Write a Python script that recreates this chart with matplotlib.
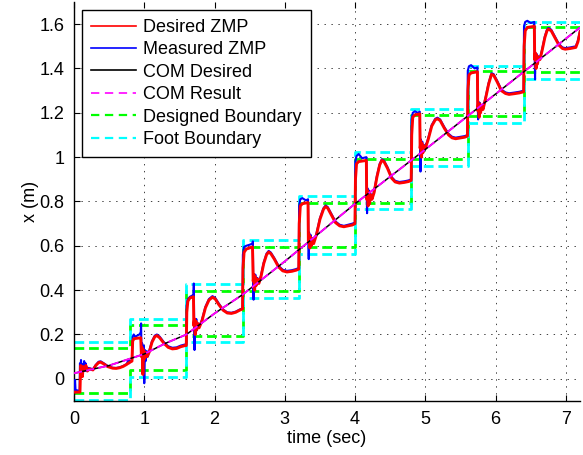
import matplotlib
matplotlib.use("Agg")
import matplotlib.pyplot as plt
from matplotlib.lines import Line2D

plt.rcParams['font.family'] = ['Liberation Sans', 'DejaVu Sans']
plt.rcParams['lines.scale_dashes'] = False

# ---------------- data ----------------
step_edges = [0.0, 0.8, 1.6, 2.4, 3.2, 4.0, 4.8, 5.6, 6.4, 7.2]
foot_lo = [-0.095, 0.009, 0.168, 0.366, 0.563, 0.765, 0.958, 1.155, 1.352]
foot_hi = [0.165, 0.27, 0.426, 0.626, 0.825, 1.022, 1.218, 1.411, 1.611]
design_lo = [-0.064, 0.042, 0.195, 0.397, 0.593, 0.795, 0.99, 1.185, 1.384]
design_hi = [0.137, 0.242, 0.397, 0.596, 0.795, 0.99, 1.19, 1.389, 1.585]

com_t = [0.0, 0.5, 1.0, 1.3, 1.6, 2.0, 2.4, 3.0, 4.0, 5.0, 6.0, 7.2]
com_des = [0.025, 0.06, 0.112, 0.16, 0.20, 0.295, 0.38, 0.53, 0.79, 1.035, 1.285, 1.585]
com_res = [0.025, 0.06, 0.112, 0.16, 0.20, 0.295, 0.38, 0.53, 0.79, 1.035, 1.285, 1.585]

zmp_des_t = [
    0.00, 0.085, 0.095, 0.11, 0.12, 0.13, 0.15, 0.17, 0.19, 0.22, 0.27, 0.31, 0.35, 0.38, 0.42, 0.48, 0.55, 0.60, 0.65, 0.70, 0.75, 0.78, 0.825,
    0.835, 0.85, 0.87, 0.95, 0.96, 0.97, 0.98, 0.99, 1.00, 1.02, 1.04, 1.07, 1.11, 1.15, 1.18, 1.22, 1.28, 1.34, 1.40, 1.46, 1.52, 1.58, 1.598,
    1.605, 1.62, 1.65, 1.70, 1.705, 1.715, 1.725, 1.735, 1.745, 1.76, 1.78, 1.82, 1.87, 1.92, 1.97, 2.01, 2.06, 2.12, 2.18, 2.24, 2.30, 2.36, 2.398,
    2.405, 2.42, 2.45, 2.54, 2.55, 2.56, 2.57, 2.58, 2.59, 2.61, 2.63, 2.66, 2.70, 2.74, 2.77, 2.80, 2.85, 2.91, 2.97, 3.03, 3.10, 3.16, 3.198,
    3.205, 3.22, 3.25, 3.33, 3.335, 3.345, 3.355, 3.365, 3.375, 3.39, 3.41, 3.45, 3.50, 3.55, 3.58, 3.61, 3.66, 3.72, 3.78, 3.84, 3.90, 3.96, 3.998,
    4.005, 4.02, 4.05, 4.16, 4.165, 4.175, 4.185, 4.195, 4.205, 4.22, 4.24, 4.27, 4.31, 4.35, 4.38, 4.41, 4.46, 4.52, 4.57, 4.63, 4.70, 4.76, 4.798,
    4.805, 4.82, 4.85, 4.92, 4.925, 4.935, 4.945, 4.955, 4.965, 4.98, 5.00, 5.04, 5.09, 5.14, 5.17, 5.21, 5.27, 5.33, 5.38, 5.43, 5.50, 5.56, 5.598,
    5.605, 5.62, 5.65, 5.74, 5.745, 5.755, 5.765, 5.775, 5.785, 5.80, 5.82, 5.86, 5.90, 5.94, 5.97, 6.02, 6.08, 6.14, 6.19, 6.26, 6.34, 6.398,
    6.405, 6.42, 6.45, 6.55, 6.555, 6.565, 6.575, 6.585, 6.595, 6.61, 6.63, 6.66, 6.70, 6.73, 6.75, 6.79, 6.84, 6.90, 6.95, 6.99, 7.06, 7.14, 7.17, 7.20,
]
zmp_des_x = [
    -0.06, -0.06, 0.06, 0.05, 0.01, 0.055, 0.04, 0.06, 0.035, 0.045, 0.04, 0.06, 0.073, 0.075, 0.068, 0.055, 0.048, 0.047, 0.05, 0.056, 0.065, 0.072, 0.08,
    0.17, 0.18, 0.182, 0.185, 0.10, 0.14, 0.02, 0.13, 0.09, 0.12, 0.10, 0.12, 0.165, 0.19, 0.195, 0.185, 0.16, 0.142, 0.135, 0.137, 0.145, 0.15, 0.15,
    0.30, 0.35, 0.365, 0.37, 0.24, 0.27, 0.20, 0.26, 0.22, 0.25, 0.23, 0.26, 0.32, 0.355, 0.368, 0.36, 0.335, 0.31, 0.297, 0.295, 0.30, 0.31, 0.315,
    0.50, 0.57, 0.585, 0.595, 0.44, 0.47, 0.40, 0.46, 0.42, 0.45, 0.43, 0.46, 0.52, 0.56, 0.572, 0.565, 0.54, 0.505, 0.487, 0.482, 0.485, 0.49, 0.495,
    0.70, 0.78, 0.79, 0.795, 0.62, 0.65, 0.59, 0.64, 0.60, 0.63, 0.61, 0.65, 0.72, 0.765, 0.777, 0.77, 0.74, 0.705, 0.69, 0.686, 0.69, 0.694, 0.70,
    0.90, 0.97, 0.98, 0.985, 0.81, 0.85, 0.78, 0.84, 0.79, 0.83, 0.81, 0.84, 0.91, 0.965, 0.985, 0.98, 0.95, 0.905, 0.888, 0.883, 0.886, 0.89, 0.895,
    1.10, 1.18, 1.19, 1.195, 1.04, 1.07, 1.00, 1.06, 1.02, 1.05, 1.04, 1.08, 1.14, 1.168, 1.173, 1.165, 1.13, 1.10, 1.087, 1.083, 1.087, 1.09, 1.095,
    1.30, 1.37, 1.38, 1.385, 1.21, 1.24, 1.18, 1.24, 1.20, 1.23, 1.215, 1.27, 1.33, 1.373, 1.37, 1.34, 1.30, 1.287, 1.283, 1.286, 1.29, 1.295,
    1.50, 1.57, 1.585, 1.59, 1.44, 1.47, 1.40, 1.46, 1.42, 1.45, 1.44, 1.48, 1.54, 1.57, 1.578, 1.57, 1.54, 1.505, 1.49, 1.487, 1.49, 1.495, 1.52, 1.565,
]

zmp_meas_t = [
    0.00, 0.01, 0.015, 0.022, 0.08, 0.085, 0.092, 0.10, 0.108, 0.118, 0.13, 0.145, 0.155, 0.165, 0.175, 0.19, 0.22, 0.27, 0.31, 0.35, 0.38, 0.42, 0.48, 0.55, 0.60, 0.65, 0.70, 0.75, 0.775, 0.785, 0.80, 0.825,
    0.835, 0.85, 0.87, 0.90, 0.93, 0.95, 0.955, 0.96, 0.97, 0.98, 0.99, 1.00, 1.01, 1.02, 1.035, 1.05, 1.07, 1.11, 1.15, 1.18, 1.22, 1.28, 1.34, 1.40, 1.46, 1.52, 1.58, 1.598,
    1.603, 1.62, 1.65, 1.68, 1.70, 1.705, 1.71, 1.715, 1.72, 1.73, 1.74, 1.75, 1.76, 1.78, 1.82, 1.87, 1.92, 1.97, 2.01, 2.06, 2.12, 2.18, 2.24, 2.30, 2.36, 2.398,
    2.403, 2.42, 2.45, 2.50, 2.54, 2.545, 2.55, 2.555, 2.56, 2.57, 2.58, 2.59, 2.61, 2.63, 2.66, 2.70, 2.74, 2.77, 2.80, 2.85, 2.91, 2.97, 3.03, 3.10, 3.16, 3.198,
    3.203, 3.22, 3.25, 3.30, 3.33, 3.335, 3.34, 3.345, 3.355, 3.365, 3.375, 3.39, 3.41, 3.45, 3.50, 3.55, 3.58, 3.61, 3.66, 3.72, 3.78, 3.84, 3.90, 3.96, 3.998,
    4.003, 4.02, 4.05, 4.10, 4.16, 4.165, 4.17, 4.175, 4.185, 4.195, 4.205, 4.22, 4.24, 4.27, 4.31, 4.35, 4.38, 4.41, 4.46, 4.52, 4.57, 4.63, 4.70, 4.76, 4.798,
    4.803, 4.82, 4.85, 4.89, 4.92, 4.925, 4.93, 4.935, 4.945, 4.955, 4.965, 4.98, 5.00, 5.04, 5.09, 5.14, 5.17, 5.21, 5.27, 5.33, 5.38, 5.43, 5.50, 5.56, 5.598,
    5.603, 5.62, 5.65, 5.70, 5.74, 5.745, 5.75, 5.755, 5.765, 5.775, 5.785, 5.80, 5.82, 5.86, 5.90, 5.94, 5.97, 6.02, 6.08, 6.14, 6.19, 6.26, 6.34, 6.398,
    6.403, 6.42, 6.45, 6.50, 6.55, 6.555, 6.56, 6.565, 6.575, 6.585, 6.595, 6.61, 6.63, 6.66, 6.70, 6.73, 6.75, 6.79, 6.84, 6.90, 6.95, 6.99, 7.06, 7.14, 7.17, 7.20,
]
zmp_meas_x = [
    -0.055, -0.055, -0.005, -0.05, -0.055, 0.07, 0.04, 0.085, 0.03, 0.065, 0.045, 0.08, 0.035, 0.07, 0.04, 0.05, 0.048, 0.043, 0.063, 0.077, 0.079, 0.071, 0.058, 0.05, 0.049, 0.052, 0.058, 0.067, 0.085, 0.07, 0.08, 0.08,
    0.19, 0.20, 0.19, 0.195, 0.20, 0.21, 0.25, 0.12, 0.16, 0.06, 0.15, -0.02, 0.13, 0.08, 0.125, 0.10, 0.125, 0.17, 0.195, 0.2, 0.19, 0.165, 0.147, 0.14, 0.142, 0.15, 0.155, 0.155,
    0.33, 0.36, 0.37, 0.375, 0.38, 0.43, 0.24, 0.13, 0.26, 0.21, 0.27, 0.22, 0.25, 0.235, 0.265, 0.325, 0.36, 0.373, 0.365, 0.34, 0.313, 0.30, 0.298, 0.303, 0.313, 0.318,
    0.56, 0.595, 0.60, 0.605, 0.61, 0.62, 0.45, 0.357, 0.47, 0.41, 0.47, 0.42, 0.455, 0.435, 0.465, 0.525, 0.565, 0.577, 0.57, 0.545, 0.51, 0.492, 0.487, 0.49, 0.495, 0.50,
    0.78, 0.81, 0.815, 0.805, 0.81, 0.64, 0.54, 0.66, 0.60, 0.65, 0.60, 0.635, 0.615, 0.655, 0.725, 0.77, 0.782, 0.775, 0.745, 0.71, 0.695, 0.69, 0.695, 0.70, 0.705,
    0.98, 1.005, 1.014, 0.995, 1.0, 0.83, 0.747, 0.86, 0.79, 0.85, 0.795, 0.835, 0.815, 0.845, 0.915, 0.97, 0.99, 0.985, 0.955, 0.91, 0.893, 0.888, 0.891, 0.895, 0.90,
    1.17, 1.20, 1.207, 1.20, 1.205, 1.06, 0.935, 1.08, 1.01, 1.07, 1.025, 1.055, 1.045, 1.085, 1.145, 1.173, 1.178, 1.17, 1.135, 1.105, 1.092, 1.088, 1.092, 1.095, 1.10,
    1.39, 1.41, 1.415, 1.40, 1.405, 1.23, 1.17, 1.25, 1.19, 1.245, 1.205, 1.235, 1.22, 1.275, 1.335, 1.378, 1.375, 1.345, 1.305, 1.292, 1.288, 1.291, 1.295, 1.30,
    1.59, 1.61, 1.615, 1.605, 1.61, 1.45, 1.351, 1.47, 1.41, 1.465, 1.425, 1.455, 1.445, 1.485, 1.545, 1.575, 1.583, 1.575, 1.545, 1.51, 1.495, 1.492, 1.495, 1.50, 1.525, 1.57,
]

x_ticks = [0, 1, 2, 3, 4, 5, 6, 7]
y_ticks = [0, 0.2, 0.4, 0.6, 0.8, 1.0, 1.2, 1.4, 1.6]
y_tick_labels = ['0', '0.2', '0.4', '0.6', '0.8', '1', '1.2', '1.4', '1.6']

# ---------------- figure ----------------
fig = plt.figure(figsize=(5.83, 4.55), dpi=100)
ax = fig.add_axes([0.1269, 0.1187, 0.868, 0.877])

dash_b = (0, (7, 3.5))
lw_b = 2.0
ax.plot(step_edges, design_lo + [design_lo[-1]], drawstyle='steps-post', color=(0, 1, 0), lw=lw_b, linestyle=dash_b, zorder=2)
ax.plot(step_edges, design_hi + [design_hi[-1]], drawstyle='steps-post', color=(0, 1, 0), lw=lw_b, linestyle=dash_b, zorder=2)
ax.plot(step_edges, foot_lo + [foot_lo[-1]], drawstyle='steps-post', color=(0, 1, 1), lw=lw_b, linestyle=dash_b, zorder=2)
ax.plot(step_edges, foot_hi + [foot_hi[-1]], drawstyle='steps-post', color=(0, 1, 1), lw=lw_b, linestyle=dash_b, zorder=2)

ax.plot(zmp_meas_t, zmp_meas_x, color=(0, 0, 1), lw=1.5, zorder=3)
ax.plot(zmp_des_t, zmp_des_x, color=(1, 0, 0), lw=2.1, zorder=4)
ax.plot(com_t, com_des, color='black', lw=1.1, zorder=5)
ax.plot(com_t, com_res, color=(1, 0, 1), lw=1.4, linestyle=(0, (6, 3)), zorder=6)

ax.set_xlim(0, 7.2)
ax.set_ylim(-0.1, 1.7)
ax.set_xticks(x_ticks)
ax.set_yticks(y_ticks)
ax.set_yticklabels(y_tick_labels)
ax.tick_params(direction='in', length=4, width=0.8, labelsize=13, top=True, pad=7)
ax.grid(True, color='0.25', linestyle=(0, (1, 4)), linewidth=0.7)
for s in ['top', 'right']:
    ax.spines[s].set_visible(False)
for s in ['left', 'bottom']:
    ax.spines[s].set_linewidth(1.0)

ax.set_xlabel('time (sec)', fontsize=13, labelpad=2)
ax.set_ylabel('x (m)', fontsize=13)
ax.yaxis.set_label_coords(-0.069, 0.5)

handles = [
    Line2D([], [], color=(1, 0, 0), lw=1.2),
    Line2D([], [], color=(0, 0, 1), lw=1.2),
    Line2D([], [], color='black', lw=1.2),
    Line2D([], [], color=(1, 0, 1), lw=1.2, linestyle=(0, (6, 4))),
    Line2D([], [], color=(0, 1, 0), lw=1.6, linestyle=(0, (6, 4))),
    Line2D([], [], color=(0, 1, 1), lw=1.6, linestyle=(0, (6, 4))),
]
labels = ['Desired ZMP', 'Measured ZMP', 'COM Desired', 'COM Result', 'Designed Boundary', 'Foot Boundary']
leg = ax.legend(handles, labels, loc='upper left', bbox_to_anchor=(0.016, 0.98), borderaxespad=0,
                fontsize=13, frameon=True, fancybox=False, framealpha=1, edgecolor='black',
                handlelength=2.5, handletextpad=0.4, labelspacing=0.3, borderpad=0.5)
leg.get_frame().set_linewidth(1.0)

fig.savefig('out.png', dpi=100)
